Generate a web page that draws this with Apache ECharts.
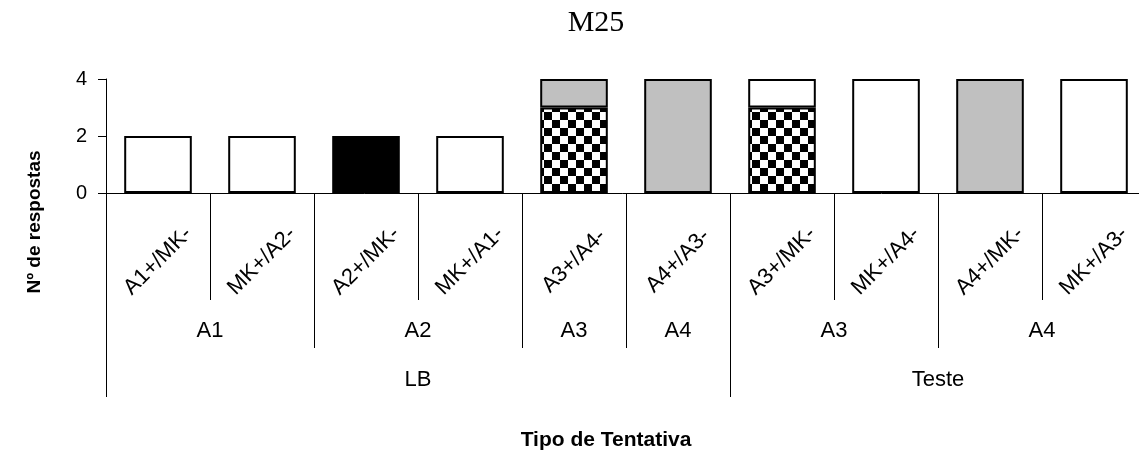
<!DOCTYPE html>
<html>
<head>
<meta charset="utf-8">
<script src="https://cdn.jsdelivr.net/npm/echarts@6/dist/echarts.min.js"></script>
<style>
html,body{margin:0;padding:0;background:#fff;}
#chart{width:1139px;height:454px;}
</style>
</head>
<body>
<div id="chart"></div>
<script>
const chartTitle = 'M25';
const yTitle = 'Nº de respostas';
const xTitle = 'Tipo de Tentativa';
const categories = ['A1+/MK-','MK+/A2-','A2+/MK-','MK+/A1-','A3+/A4-','A4+/A3-','A3+/MK-','MK+/A4-','A4+/MK-','MK+/A3-'];
const checkeredVals = [null,null,null,null,3,null,3,null,null,null];
const blackVals     = [null,null,2,null,null,null,null,null,null,null];
const greyVals      = [null,null,null,null,1,4,null,null,4,null];
const whiteVals     = [2,2,null,2,null,null,1,4,null,4];
const level2Labels = ['A1','A2','A3','A4','A3','A4'];
const level2Spans  = [2,2,1,1,2,2];
const level3Labels = ['LB','Teste'];
const level3Spans  = [6,4];
const yTicks = [0,2,4];

const FONT = '"Liberation Sans", Arial, sans-serif';

function buildLevel(labels, spans){
  const n = categories.length*2 + 1;
  const data = [];
  const names = {};
  for (let i=0;i<n;i++) data.push('p'+i);
  const ticks = new Set([0]);
  const centers = new Set();
  let pos = 0;
  labels.forEach((l,i)=>{
    const c = pos*2 + spans[i];
    names[c] = l; centers.add(c);
    pos += spans[i];
    ticks.add(pos*2);
  });
  return {data, names, ticks, centers};
}
const lv2 = buildLevel(level2Labels, level2Spans);
const lv3 = buildLevel(level3Labels, level3Spans);

// checker pattern
const pc = document.createElement('canvas');
pc.width = 16; pc.height = 16;
const pctx = pc.getContext('2d');
pctx.fillStyle = '#fff'; pctx.fillRect(0,0,16,16);
pctx.fillStyle = '#000'; pctx.fillRect(0,0,8,8); pctx.fillRect(8,8,8,8);

const chart = echarts.init(document.getElementById('chart'), null, {renderer:'canvas'});

function levelAxis(lv, tickLen, margin){
  return {
    type:'category', position:'bottom', gridIndex:0, boundaryGap:false,
    data: lv.data,
    axisLine:{show:false},
    axisTick:{show:true, length:tickLen, interval:(idx)=>lv.ticks.has(idx), lineStyle:{color:'#000', width:1}},
    axisLabel:{show:true, interval:(idx)=>lv.centers.has(idx), margin:margin,
      formatter:(v, idx)=> lv.names[idx] || '',
      color:'#000', fontSize:22, fontFamily:FONT, verticalAlign:'middle', align:'center'},
    splitLine:{show:false}
  };
}

const barBase = {type:'bar', stack:'total', barCategoryGap:'35%', itemStyle:{borderColor:'#000', borderWidth:2}};

chart.setOption({
  animation:false,
  backgroundColor:'#fff',
  grid:{left:106, top:79, width:1040, height:114, containLabel:false, outerBoundsMode:'none'},
  xAxis:[
    {type:'category', position:'bottom', data:categories, boundaryGap:true,
     axisLine:{show:true, lineStyle:{color:'#000', width:1}},
     axisTick:{show:true, interval:0, length:107, alignWithLabel:false, lineStyle:{color:'#000', width:1}},
     axisLabel:{interval:0, rotate:45, margin:68, align:'center', verticalAlign:'middle', color:'#000', fontSize:22, fontFamily:FONT},
     splitLine:{show:false}},
    levelAxis(lv2, 155, 138),
    levelAxis(lv3, 204, 187)
  ],
  yAxis:{type:'value', min:0, max:4, interval:2,
    axisLine:{show:true, lineStyle:{color:'#000', width:1}},
    axisTick:{show:true, length:8, lineStyle:{color:'#000', width:1}},
    axisLabel:{color:'#000', fontSize:20, fontFamily:FONT, margin:19,
      formatter:(v)=> yTicks.includes(v) ? String(v) : ''},
    splitLine:{show:false}},
  series:[
    Object.assign({}, barBase, {name:'checkered', data:checkeredVals, itemStyle:{color:{image:pc, repeat:'repeat'}, borderColor:'#000', borderWidth:2}}),
    Object.assign({}, barBase, {name:'black', data:blackVals, itemStyle:{color:'#000', borderColor:'#000', borderWidth:2}}),
    Object.assign({}, barBase, {name:'grey', data:greyVals, itemStyle:{color:'#c0c0c0', borderColor:'#000', borderWidth:2}}),
    Object.assign({}, barBase, {name:'white', data:whiteVals, itemStyle:{color:'#fff', borderColor:'#000', borderWidth:2}})
  ],
  graphic:[
    {type:'text', x:596, y:23, style:{text:chartTitle, x:0, y:0, align:'center', verticalAlign:'middle', font:'30px "Liberation Serif", "Times New Roman", serif', fill:'#000'}},
    {type:'text', x:35, y:222, rotation:Math.PI/2, style:{text:yTitle, x:0, y:0, align:'center', verticalAlign:'middle', font:'bold 19px '+FONT, fill:'#000'}},
    {type:'text', x:606, y:440, style:{text:xTitle, x:0, y:0, align:'center', verticalAlign:'middle', font:'bold 21px '+FONT, fill:'#000'}}
  ]
});
</script>
</body>
</html>
